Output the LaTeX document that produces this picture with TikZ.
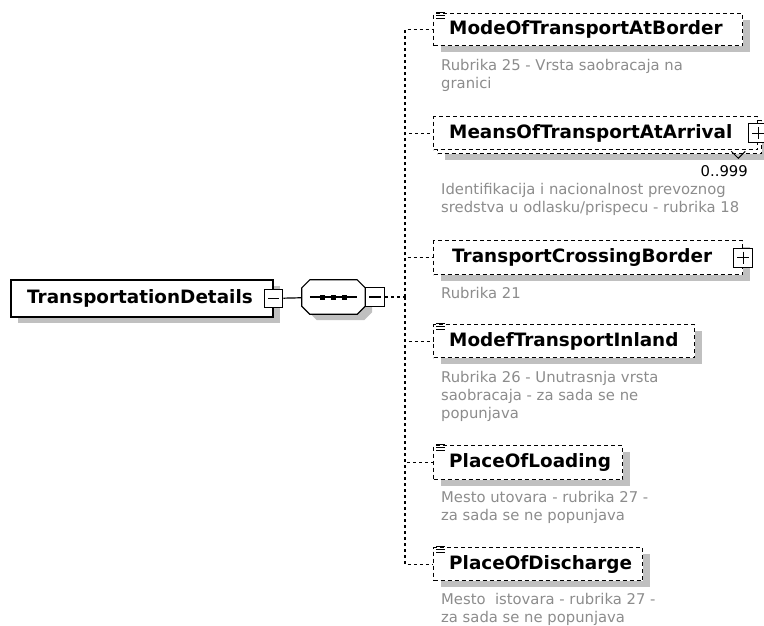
\documentclass[tikz,border=0pt]{standalone}
\usepackage{fontspec}
\setmainfont{DejaVu Sans}
\usepackage{tikz}
\usetikzlibrary{shadows,positioning,calc}

\definecolor{shadowgrey}{HTML}{C0C0C0}
\definecolor{notegrey}{HTML}{8C8C8C}

% three small bars at the top left corner of a simple element
\newcommand{\leaficon}[1]{%
  \foreach \dy in {-1,2,5}
    \draw[line width=0.9pt] ([shift={(3,\dy)}]#1.north west) -- +(9,0);
}
% octagon of the sequence compositor, drawn round node #1
\newcommand{\octagon}[2]{%
  ($(#1.north west)+(8,0)$) -- ($(#1.north east)+(-8,0)$) -- ($(#1.north east)+(0,8)$)
  -- ($(#1.south east)+(0,-8)$) -- ($(#1.south east)+(-8,0)$) -- ($(#1.south west)+(8,0)$)
  -- ($(#1.south west)+(0,-8)$) -- ($(#1.north west)+(0,8)$) -- cycle #2}

\begin{document}
\begin{tikzpicture}[x=1pt,y=-1pt,
  boxshadow/.style={drop shadow={shadow xshift=7pt,shadow yshift=-6pt,fill=shadowgrey,opacity=1}},
  flatbox/.style={draw,fill=white,line width=1.3pt,dash pattern=on 4pt off 3pt,inner sep=0,anchor=north west},
  elembox/.style={flatbox,boxshadow},
  mainbox/.style={draw,fill=white,line width=1.8pt,inner sep=0,anchor=north west,boxshadow},
  elemname/.style={font=\bfseries\fontsize{18.4}{20}\selectfont,inner sep=0,anchor=west},
  note/.style={font=\fontsize{14.8}{18}\selectfont,text=notegrey,align=left,inner sep=0,anchor=north west},
  pmbox/.style={draw,fill=white,line width=1.2pt,inner sep=0,minimum size=#1},
  minusbox/.style={pmbox=#1,path picture={
    \draw[line width=1.2pt] ($(path picture bounding box.west)+(3.5,0)$) -- ($(path picture bounding box.east)+(-3.5,0)$);}},
  plusbox/.style={pmbox=#1,path picture={
    \draw[line width=1.2pt] ($(path picture bounding box.west)+(3.5,0)$) -- ($(path picture bounding box.east)+(-3.5,0)$);
    \draw[line width=1.2pt] ($(path picture bounding box.north)+(0,3.5)$) -- ($(path picture bounding box.south)+(0,-3.5)$);}},
  conn/.style={line width=1.3pt,dash pattern=on 3pt off 3pt}
]
\useasboundingbox (0,0) rectangle (764,625);

% root element and sequence
\node[mainbox,minimum width=262,minimum height=37] (tdet) at (10,279) {};
\node[elemname] (tdetT) at ([xshift=17pt]tdet.west) {TransportationDetails};
\node[minusbox=18pt] (tdetM) at (tdet.east) {};
\node[inner sep=0,minimum width=63,minimum height=34] (seq) at (333.5,297) {};
\fill[shadowgrey,transform canvas={shift={(7pt,-6pt)}}] \octagon{seq}{};
\draw[line width=1.2pt,fill=white] \octagon{seq}{};
\draw[line width=1.2pt] (tdetM) -- (seq);
\draw[line width=1.2pt] ([xshift=8pt]seq.west) -- ([xshift=-8pt]seq.east);
\foreach \dx in {-11,0,11}
  \fill ([xshift=\dx pt]seq.center) +(-2.5,-2.5) rectangle +(2.5,2.5);
\node[minusbox=19pt,anchor=west] (seqM) at (seq.east) {};
\coordinate (bus) at (405,297);
\draw[conn] (seqM.east) -- (bus);

% children
\node[elembox,minimum width=309,minimum height=32] (mode) at (433,13) {};
\node[elemname] (modeT) at ([xshift=16pt]mode.west) {ModeOfTransportAtBorder};
\leaficon{mode}
\node[note] (modeN) at (441,59) {Rubrika 25 - Vrsta saobracaja na\\granici};

\node[elembox,minimum width=324,minimum height=33] (meansB) at (437,120) {};
\node[flatbox,minimum width=324,minimum height=33] (means) at (433,116) {};
\node[elemname] (meansT) at ([xshift=16pt]means.west) {MeansOfTransportAtArrival};
\node[plusbox=19pt] (meansP) at (means.east) {};
\draw[line width=1pt] ($(meansB.south east)+(-31,-3)$) -- ++(7,7) -- ++(7,-7);
\node[font=\fontsize{14.8}{18}\selectfont,inner sep=0,anchor=east] (meansO) at (748,171) {0..999};
\node[note] (meansN) at (441,183) {Identifikacija i nacionalnost prevoznog\\sredstva u odlasku/prispecu - rubrika 18};

\node[elembox,minimum width=309,minimum height=34] (cross) at (433,240) {};
\node[elemname] (crossT) at ([xshift=19pt]cross.west) {TransportCrossingBorder};
\node[plusbox=19pt] (crossP) at (cross.east) {};
\node[note] (crossN) at (441,287) {Rubrika 21};

\node[elembox,minimum width=261,minimum height=33] (inland) at (433,324) {};
\node[elemname] (inlandT) at ([xshift=16pt]inland.west) {ModefTransportInland};
\leaficon{inland}
\node[note] (inlandN) at (441,371) {Rubrika 26 - Unutrasnja vrsta\\saobracaja - za sada se ne\\popunjava};

\node[elembox,minimum width=189,minimum height=34] (loading) at (433,445) {};
\node[elemname] (loadingT) at ([xshift=16pt]loading.west) {PlaceOfLoading};
\leaficon{loading}
\node[note] (loadingN) at (441,491) {Mesto utovara - rubrika 27 -\\za sada se ne popunjava};

\node[elembox,minimum width=209,minimum height=33] (discharge) at (433,547) {};
\node[elemname] (dischargeT) at ([xshift=16pt]discharge.west) {PlaceOfDischarge};
\leaficon{discharge}
\node[note] (dischargeN) at (441,593) {Mesto\ \ istovara - rubrika 27 -\\za sada se ne popunjava};

% connectors from the sequence to each child
\foreach \c in {mode,means,cross,inland,loading,discharge}
  \draw[conn] (bus) |- (\c.west);
\end{tikzpicture}
\end{document}
